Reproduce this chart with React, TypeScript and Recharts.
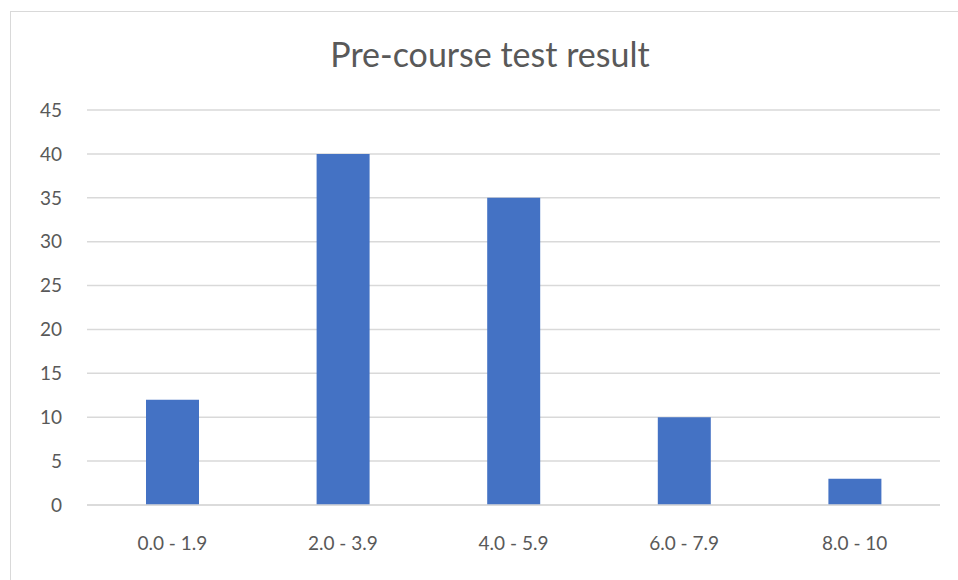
import React from "react";
import { BarChart, Bar, XAxis, YAxis, CartesianGrid } from "recharts";

const categories = ["0.0 - 1.9", "2.0 - 3.9", "4.0 - 5.9", "6.0 - 7.9", "8.0 - 10"];
const counts = [12, 40, 35, 10, 3];
const yTicks = [0, 5, 10, 15, 20, 25, 30, 35, 40, 45];

const data = categories.map((name, i) => ({ name, value: counts[i] }));

const font = "Lato, 'Open Sans', sans-serif";

export default function App() {
  return (
    <div style={{ position: "absolute", left: 0, top: 0, width: 958, height: 580, overflow: "hidden", background: "#fff" }}>
      <div
        style={{
          position: "absolute",
          left: 10,
          top: 11,
          width: 970,
          height: 600,
          border: "1px solid #d9d9d9",
          boxSizing: "border-box",
        }}
      />
      <div
        style={{
          position: "absolute",
          left: 10,
          width: 960,
          top: 33,
          textAlign: "center",
          fontFamily: font,
          fontSize: 34,
          color: "#595959",
        }}
      >
        Pre-course test result
      </div>
      <div style={{ position: "absolute", left: 0, top: 0 }}>
        <BarChart
          width={958}
          height={580}
          data={data}
          margin={{ top: 110, right: 18, bottom: 45, left: 27 }}
        >
          <CartesianGrid vertical={false} stroke="#d9d9d9" strokeWidth={1.5} />
          <XAxis
            dataKey="name"
            height={30}
            axisLine={{ stroke: "#d9d9d9", strokeWidth: 1.5 }}
            tickLine={false}
            tickSize={0}
            tickMargin={32}
            tick={{ fill: "#595959", fontSize: 19, fontFamily: font }}
          />
          <YAxis
            width={60}
            domain={[0, 45]}
            ticks={yTicks}
            axisLine={false}
            tickLine={false}
            tickSize={0}
            tickMargin={25}
            tick={{ fill: "#595959", fontSize: 19, fontFamily: font }}
          />
          <Bar dataKey="value" fill="#4472C4" barSize={53} isAnimationActive={false} />
        </BarChart>
      </div>
    </div>
  );
}
